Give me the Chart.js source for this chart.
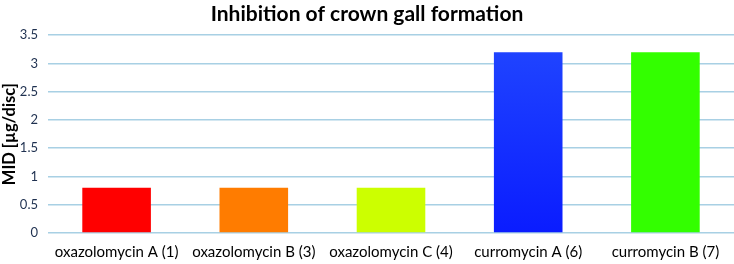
<!DOCTYPE html>
<html lang="en">
<head>
    <meta charset="UTF-8">
    <title>Inhibition of crown gall formation</title>
    <script src="https://cdn.jsdelivr.net/npm/chart.js"></script>
    <style>
        html, body { margin: 0; padding: 0; background: #fff; }
        #chart { display: block; }
    </style>
</head>
<body>
    <canvas id="chart" width="734" height="264"></canvas>

    <script>
        // Data
        const compounds = ['oxazolomycin A (1)', 'oxazolomycin B (3)', 'oxazolomycin C (4)', 'curromycin A (6)', 'curromycin B (7)'];
        const midValues = [0.8, 0.8, 0.8, 3.2, 3.2];
        const barColors = ['#ff0000', '#ff7c00', '#ccff00', 'blue-gradient', '#33ff00'];

        function barFill(context) {
            const c = barColors[context.dataIndex];
            if (c !== 'blue-gradient') return c;
            const area = context.chart.chartArea;
            if (!area) return '#1133ff';
            const g = context.chart.ctx.createLinearGradient(0, area.top, 0, area.bottom);
            g.addColorStop(0, '#2147ff');
            g.addColorStop(1, '#0a1cff');
            return g;
        }

        const ctx = document.getElementById('chart').getContext('2d');
        new Chart(ctx, {
            type: 'bar',
            data: {
                labels: compounds,
                datasets: [{
                    label: 'MID',
                    data: midValues,
                    backgroundColor: barFill,
                    categoryPercentage: 1.0,
                    barPercentage: 0.5
                }]
            },
            options: {
                responsive: false,
                animation: false,
                layout: { padding: { left: 0, right: 0, top: 0, bottom: 0 } },
                plugins: {
                    legend: { display: false },
                    tooltip: { enabled: false },
                    title: {
                        display: true,
                        text: 'Inhibition of crown gall formation',
                        color: '#000',
                        font: { family: 'Lato', size: 21, weight: 'bold' },
                        padding: { top: 2, bottom: 8 }
                    }
                },
                scales: {
                    x: {
                        grid: { display: false },
                        border: { display: false },
                        ticks: {
                            color: '#000',
                            font: { family: 'Lato', size: 15 },
                            maxRotation: 0,
                            padding: 2
                        },
                        afterFit: s => { s.height = 31; }
                    },
                    y: {
                        min: 0,
                        max: 3.5,
                        ticks: {
                            stepSize: 0.5,
                            color: '#1f3150',
                            font: { family: 'Lato', size: 13 },
                            padding: 10,
                            callback: v => String(v)
                        },
                        grid: { color: '#a8d0e4', lineWidth: 1.5, drawTicks: false },
                        border: { display: false },
                        title: {
                            display: true,
                            text: 'MID [µg/disc]',
                            color: '#000',
                            font: { family: 'Lato', size: 16.5, weight: 'bold' },
                            padding: { top: 0, bottom: 0 }
                        },
                        afterFit: s => { s.width = 48; }
                    }
                }
            }
        });
    </script>
</body>
</html>
